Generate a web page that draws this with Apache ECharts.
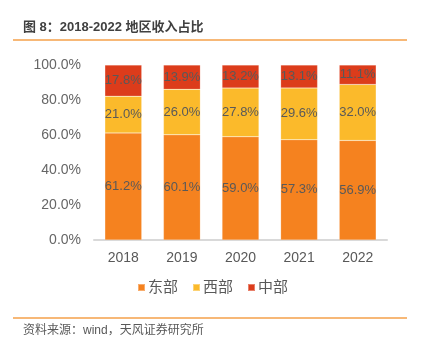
<!DOCTYPE html>
<html><head><meta charset="utf-8">
<script src="https://cdn.jsdelivr.net/npm/echarts@6/dist/echarts.min.js"></script>
<style>html,body{margin:0;padding:0;background:#fff;}#c{width:425px;height:350px;}</style>
</head><body><div id="c"></div>
<script>
const categories = ['2018','2019','2020','2021','2022'];
const east = [61.2, 60.1, 59.0, 57.3, 56.9];
const west = [21.0, 26.0, 27.8, 29.6, 32.0];
const central = [17.8, 13.9, 13.2, 13.1, 11.1];
const seriesNames = ['东部','西部','中部'];
const colors = ['#F5821F','#FBBA2B','#DC3C1B'];
const font = '"Liberation Sans", Arial, "Noto Sans CJK SC", sans-serif';

const chart = echarts.init(document.getElementById('c'));
const lbl = {show:true, position:'inside', color:'#595959', fontSize:13, fontFamily:font,
  formatter: p => p.value.toFixed(1) + '%'};
chart.setOption({
  animation:false,
  color: colors,
  graphic:[
    {type:'text', left:23, top:21, style:{text:'图 8：2018-2022 地区收入占比', fontSize:13, fontWeight:'bold', fill:'#404040', fontFamily:font}},
    {type:'line', shape:{x1:13,y1:40,x2:407,y2:40}, style:{stroke:'#F4A14A', lineWidth:1.5}},
    {type:'line', shape:{x1:13,y1:318,x2:407,y2:318}, style:{stroke:'#F4A14A', lineWidth:1.5}},
    {type:'text', left:23, top:325, style:{text:'资料来源：wind，天风证券研究所', fontSize:12, fill:'#595959', fontFamily:font}}
  ],
  grid:{left:94, right:38, top:65, bottom:110, containLabel:false},
  legend:{data:seriesNames, bottom:50, left:'center', itemWidth:7, itemHeight:7, itemGap:14,
    icon:'rect', textStyle:{fontSize:15, color:'#595959', fontFamily:font, padding:[0,0,0,-2]}},
  xAxis:{type:'category', data:categories,
    axisLine:{lineStyle:{color:'#D9D9D9', width:2}}, axisTick:{show:false},
    axisLabel:{fontSize:14, color:'#595959', fontFamily:font, margin:11}},
  yAxis:{type:'value', min:0, max:100, interval:20,
    splitLine:{show:false}, axisLine:{show:false}, axisTick:{show:false},
    axisLabel:{fontSize:14, color:'#666666', fontFamily:font, margin:13, formatter: v => v.toFixed(1)+'%'}},
  series:[
    {name:seriesNames[0], type:'bar', stack:'a', data:east, barWidth:'63%', label:lbl, itemStyle:{borderColor:'rgba(255,255,255,0.35)', borderWidth:0.5}},
    {name:seriesNames[1], type:'bar', stack:'a', data:west, barWidth:'63%', label:lbl, itemStyle:{borderColor:'rgba(255,255,255,0.35)', borderWidth:0.5}},
    {name:seriesNames[2], type:'bar', stack:'a', data:central, barWidth:'63%', label:lbl, itemStyle:{borderColor:'rgba(255,255,255,0.35)', borderWidth:0.5}}
  ]
});
</script></body></html>
